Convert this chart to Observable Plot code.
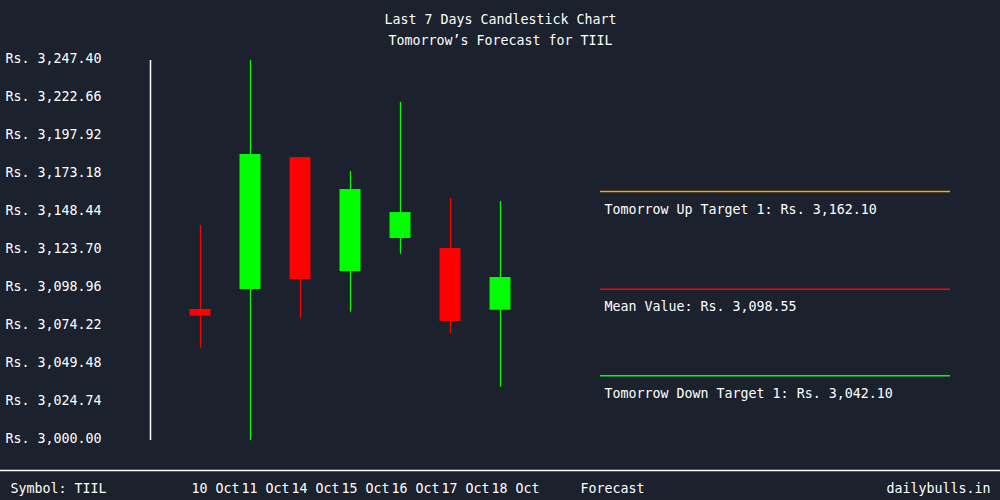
<!DOCTYPE html>
<html>
<head>
<meta charset="utf-8">
<script src="https://cdn.jsdelivr.net/npm/d3@7"></script>
<script src="https://cdn.jsdelivr.net/npm/@observablehq/plot@0.6"></script>
<style>
  html, body { margin: 0; padding: 0; background: #1b212d; }
  #chart svg { display: block; }
</style>
</head>
<body>
<div id="chart"></div>
<script>
// ---- data ----
const dates  = ["10 Oct", "11 Oct", "14 Oct", "15 Oct", "16 Oct", "17 Oct", "18 Oct"];
const opens  = [3085.3, 3098.3, 3184.2, 3110.0, 3131.5, 3125.0, 3084.8];
const highs  = [3140.0, 3247.4, 3184.2, 3175.1, 3220.1, 3157.6, 3155.6];
const lows   = [3060.1, 3000.0, 3079.6, 3083.5, 3121.3, 3069.7, 3034.7];
const closes = [3080.9, 3186.2, 3104.8, 3163.4, 3148.4, 3077.5, 3106.1];

const yTicks = [3000.00, 3024.74, 3049.48, 3074.22, 3098.96, 3123.70, 3148.44, 3173.18, 3197.92, 3222.66, 3247.40];
const yTickLabels = ["Rs. 3,000.00", "Rs. 3,024.74", "Rs. 3,049.48", "Rs. 3,074.22", "Rs. 3,098.96",
  "Rs. 3,123.70", "Rs. 3,148.44", "Rs. 3,173.18", "Rs. 3,197.92", "Rs. 3,222.66", "Rs. 3,247.40"];

const forecastValues = [3162.10, 3098.55, 3042.10];
const forecastLabels = ["Tomorrow Up Target 1: Rs. 3,162.10", "Mean Value: Rs. 3,098.55", "Tomorrow Down Target 1: Rs. 3,042.10"];
const forecastColors = ["#ffa500", "#ff0000", "#00ff00"];

const title = "Last 7 Days Candlestick Chart";
const subtitle = "Tomorrow\u2019s Forecast for TIIL";
const symbolText = "Symbol: TIIL";
const forecastText = "Forecast";
const brand = "dailybulls.in";

// ---- build ----
const candles = dates.map((d, i) => ({
  i: i + 1, date: d, open: opens[i], high: highs[i], low: lows[i], close: closes[i],
  color: closes[i] >= opens[i] ? "#00ff00" : "#ff0000"
}));
const forecasts = forecastValues.map((v, k) => ({v, label: forecastLabels[k], color: forecastColors[k]}));

const W = 1000, H = 500, mTop = 60, mBottom = 60;
const yMin = 3000, yMax = 3247.4;
// pixel -> value helper for annotation rows outside the plotting frame
const yAt = px => yMin + (H - mBottom - px) * (yMax - yMin) / (H - mTop - mBottom);
const xAt = px => (px - 150) / 50;

const font = "'DejaVu Sans Mono', 'Liberation Mono', monospace";
const fs = 13.3;

const chart = Plot.plot({
  width: W, height: H,
  marginLeft: 0, marginRight: 0, marginTop: mTop, marginBottom: mBottom,
  style: {background: "#1b212d", color: "#ffffff", fontFamily: font, fontSize: fs + "px", overflow: "visible"},
  x: {type: "linear", domain: [xAt(0), xAt(1000)], range: [0, 1000], axis: null},
  y: {type: "linear", domain: [yMin, yMax], axis: null},
  marks: [
    // title & subtitle
    Plot.text([title], {frameAnchor: "top", dy: -46, text: d => d, fill: "#ffffff", fontSize: fs}),
    Plot.text([subtitle], {frameAnchor: "top", dy: -25, text: d => d, fill: "#ffffff", fontSize: fs}),
    // y axis line
    Plot.ruleX([0], {y1: yMin, y2: yMax, stroke: "#ffffff", strokeWidth: 1.5}),
    // y tick labels
    Plot.text(yTicks, {x: xAt(5), y: d => d, text: (d, i) => yTickLabels[i], textAnchor: "start", dy: -2, fill: "#ffffff", fontSize: fs}),
    // wicks
    Plot.ruleX(candles, {x: "i", y1: "low", y2: "high", stroke: "color", strokeWidth: 1.3}),
    // bodies
    Plot.rect(candles, {x1: d => d.i - 0.21, x2: d => d.i + 0.21, y1: "open", y2: "close", fill: "color"}),
    // forecast lines
    Plot.ruleY(forecasts, {y: "v", x1: 9, x2: 16, stroke: "color", strokeWidth: 1.5}),
    Plot.text(forecasts, {x: xAt(604), y: "v", text: "label", textAnchor: "start", dy: 18, fill: "#ffffff", fontSize: fs}),
    // footer separator
    Plot.ruleY([yAt(470)], {x1: xAt(0), x2: xAt(1000), stroke: "#ffffff", strokeWidth: 1.5}),
    // footer texts
    Plot.text([symbolText], {x: xAt(10), y: yAt(488), text: d => d, textAnchor: "start", fill: "#ffffff", fontSize: fs}),
    Plot.text(candles, {x: d => d.i - 0.18, y: yAt(488), text: "date", textAnchor: "start", fill: "#ffffff", fontSize: fs}),
    Plot.text([forecastText], {x: xAt(580), y: yAt(488), text: d => d, textAnchor: "start", fill: "#ffffff", fontSize: fs}),
    Plot.text([brand], {x: xAt(990), y: yAt(488), text: d => d, textAnchor: "end", fill: "#ffffff", fontSize: fs})
  ]
});
document.getElementById("chart").appendChild(chart);
</script>
</body>
</html>
